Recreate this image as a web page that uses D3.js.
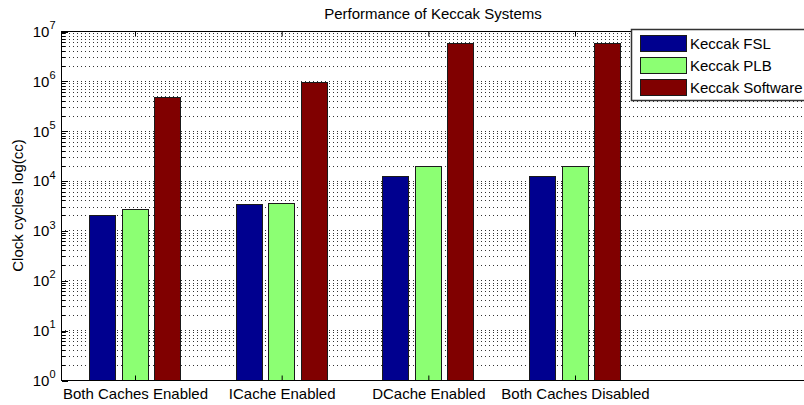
<!DOCTYPE html>
<html>
<head>
<meta charset="utf-8">
<script src="https://cdn.jsdelivr.net/npm/d3@7"></script>
<style>
  html, body { margin: 0; padding: 0; background: #fff; }
  svg { display: block; font-family: "Liberation Sans", Arial, sans-serif; }
</style>
</head>
<body>
<svg id="chart" width="804" height="405"></svg>
<script>
// Clock cycles per configuration (log scale)
const categories = ["Both Caches Enabled", "ICache Enabled", "DCache Enabled", "Both Caches Disabled"];
const seriesNames = ["Keccak FSL", "Keccak PLB", "Keccak Software"];
const keccakFSL = [2070, 3340, 12500, 12500];
const keccakPLB = [2650, 3600, 19900, 19900];
const keccakSoftware = [481000, 935000, 5660000, 5660000];
const seriesColors = ["#00008F", "#8CFF73", "#800000"];
const yTickExponents = [0, 1, 2, 3, 4, 5, 6, 7];

const seriesValues = [keccakFSL, keccakPLB, keccakSoftware];

const svg = d3.select("#chart");
const plotLeft = 61, plotRight = 806, plotTop = 31, plotBottom = 380;
const fontSize = 15;

// categories sit at 1..4; axis spans 0.5 on the left and runs past the window on the right
const x = d3.scaleLinear().domain([1, 4]).range([134.5, 574.5]);
const y = d3.scaleLog().domain([1, 1e7]).range([plotBottom, plotTop]);

const barOffset = 0.222; // group offset in category units
const barWidth = x(1.177) - x(1);

// horizontal dotted grid at every major and minor decade step
const gridValues = [];
yTickExponents.forEach(e => {
  if (e < 7) for (let m = 1; m <= 9; m++) gridValues.push(m * Math.pow(10, e));
  else gridValues.push(Math.pow(10, e));
});
svg.append("g").selectAll("line")
  .data(gridValues.filter(v => v > 1 && v < 1e7))
  .join("line")
  .attr("x1", plotLeft).attr("x2", plotRight)
  .attr("y1", d => Math.round(y(d)) + 0.5).attr("y2", d => Math.round(y(d)) + 0.5)
  .attr("stroke", "#333")
  .attr("stroke-width", 1)
  .attr("stroke-dasharray", "1,3")
  .attr("shape-rendering", "crispEdges");

// bars
const bars = [];
seriesValues.forEach((vals, s) => {
  vals.forEach((v, i) => bars.push({ s, i, v }));
});
svg.append("g").selectAll("rect")
  .data(bars)
  .join("rect")
  .attr("x", d => Math.round(x(d.i + 1 + (d.s - 1) * barOffset) - barWidth / 2) + 0.5)
  .attr("width", Math.round(barWidth))
  .attr("y", d => Math.round(y(d.v)) + 0.5)
  .attr("height", d => Math.round(y(1)) - Math.round(y(d.v)))
  .attr("fill", d => seriesColors[d.s])
  .attr("stroke", "#1a1a1a")
  .attr("stroke-width", 1)
  .attr("shape-rendering", "crispEdges");

// axes box
svg.append("rect")
  .attr("x", plotLeft + 0.5).attr("y", plotTop + 0.5)
  .attr("width", plotRight - plotLeft).attr("height", plotBottom - plotTop)
  .attr("fill", "none").attr("stroke", "#000").attr("shape-rendering", "crispEdges");

// left axis: major ticks with 10^n labels, minor ticks in between
const yAxis = d3.axisLeft(y)
  .tickValues(yTickExponents.map(e => Math.pow(10, e)))
  .tickSize(-6)
  .tickPadding(6)
  .tickFormat(() => "");
const gy = svg.append("g").attr("transform", `translate(${plotLeft + 0.5},0.5)`).call(yAxis);
gy.select(".domain").remove();
gy.selectAll(".tick line").attr("stroke", "#000").attr("shape-rendering", "crispEdges");
gy.selectAll(".tick text").each(function (d) {
  const t = d3.select(this);
  t.text(null)
    .attr("font-size", fontSize)
    .attr("fill", "#000")
    .attr("x", -6)
    .attr("dy", "0.32em");
  t.append("tspan").text("10");
  t.append("tspan").text(Math.round(Math.log10(d))).attr("font-size", 11).attr("dy", "-0.7em");
});

const minorValues = gridValues.filter(v => !yTickExponents.some(e => Math.pow(10, e) === v));
svg.append("g").selectAll("line")
  .data(minorValues)
  .join("line")
  .attr("x1", plotLeft).attr("x2", plotLeft + 4)
  .attr("y1", d => Math.round(y(d)) + 0.5).attr("y2", d => Math.round(y(d)) + 0.5)
  .attr("stroke", "#000").attr("shape-rendering", "crispEdges");

// bottom axis labels, top-edge category ticks
const xAxis = d3.axisBottom(x)
  .tickValues([1, 2, 3, 4])
  .tickSize(-5)
  .tickPadding(8)
  .tickFormat((d, i) => categories[i]);
const gx = svg.append("g").attr("transform", `translate(0.5,${plotBottom + 0.5})`).call(xAxis);
gx.select(".domain").remove();
gx.selectAll(".tick line").attr("stroke", "#000");
gx.selectAll(".tick text").attr("font-size", fontSize).attr("fill", "#000");

const xTop = d3.axisTop(x).tickValues([1, 2, 3, 4]).tickSize(-5).tickFormat("");
const gxt = svg.append("g").attr("transform", `translate(0.5,${plotTop + 0.5})`).call(xTop);
gxt.select(".domain").remove();
gxt.selectAll(".tick line").attr("stroke", "#000");

// title and y label
svg.append("text")
  .attr("x", 433).attr("y", 19)
  .attr("text-anchor", "middle")
  .attr("font-size", fontSize)
  .text("Performance of Keccak Systems");

svg.append("text")
  .attr("transform", `translate(23,${(plotTop + plotBottom) / 2}) rotate(-90)`)
  .attr("text-anchor", "middle")
  .attr("font-size", fontSize)
  .text("Clock cycles log(cc)");

// legend
const legend = svg.append("g");
legend.append("rect")
  .attr("x", 631.5).attr("y", 29.5)
  .attr("width", 180).attr("height", 71)
  .attr("fill", "#fff").attr("stroke", "#333").attr("stroke-width", 1.5);
const items = legend.selectAll("g.item")
  .data(seriesNames)
  .join("g")
  .attr("class", "item")
  .attr("transform", (d, i) => `translate(0,${35 + i * 22})`);
items.append("rect")
  .attr("x", 640.5).attr("y", 0.5)
  .attr("width", 46).attr("height", 16)
  .attr("fill", (d, i) => seriesColors[i])
  .attr("stroke", "#1a1a1a")
  .attr("shape-rendering", "crispEdges");
items.append("text")
  .attr("x", 690).attr("y", 14)
  .attr("font-size", fontSize)
  .text(d => d);
</script>
</body>
</html>
